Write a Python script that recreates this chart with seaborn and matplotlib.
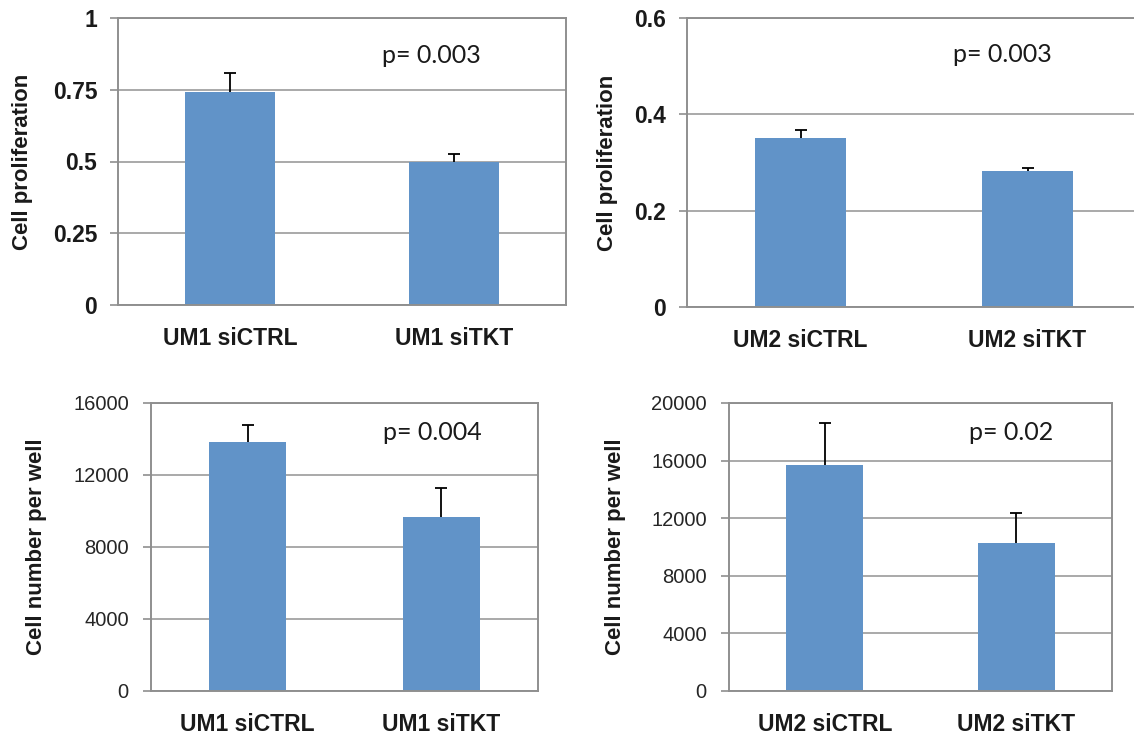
import numpy as np
import pandas as pd
import seaborn as sns
import matplotlib.pyplot as plt

# values
um1_groups = ['UM1 siCTRL', 'UM1 siTKT']
um2_groups = ['UM2 siCTRL', 'UM2 siTKT']

um1_prolif = [0.743, 0.497]
um1_prolif_err = [0.065, 0.030]
um2_prolif = [0.351, 0.282]
um2_prolif_err = [0.016, 0.006]

um1_count = [13850, 9650]
um1_count_err = [930, 1640]
um2_count = [15700, 10250]
um2_count_err = [2900, 2080]

p_labels = ['p= 0.003', 'p= 0.003', 'p= 0.004', 'p= 0.02']

prolif_ticks_um1 = [0, 0.25, 0.5, 0.75, 1]
prolif_ticklabels_um1 = ['0', '0.25', '0.5', '0.75', '1']
prolif_ticks_um2 = [0, 0.2, 0.4, 0.6]
prolif_ticklabels_um2 = ['0', '0.2', '0.4', '0.6']
count_ticks_um1 = [0, 4000, 8000, 12000, 16000]
count_ticks_um2 = [0, 4000, 8000, 12000, 16000, 20000]

sns.set_theme(style="white")
plt.rcParams['font.family'] = ['Liberation Sans', 'DejaVu Sans']

BAR = '#6193c8'
GRID = '#a9a9a9'
SPINE = '#8f8f8f'

fig = plt.figure(figsize=(11.34, 7.36), dpi=100)
W, H = 1134, 736


def px_axes(left, right, top, bottom):
    return fig.add_axes([left / W, (H - bottom) / H, (right - left) / W, (bottom - top) / H])


panels = [
    dict(box=(118, 566, 18, 305), groups=um1_groups, vals=um1_prolif, err=um1_prolif_err,
         ticks=prolif_ticks_um1, labels=prolif_ticklabels_um1, ylabel='Cell proliferation',
         top_row=True, lab_x=-0.19, p_xy=(0.699, 0.871)),
    dict(box=(687, 1141, 18, 307), groups=um2_groups, vals=um2_prolif, err=um2_prolif_err,
         ticks=prolif_ticks_um2, labels=prolif_ticklabels_um2, ylabel='Cell proliferation',
         top_row=True, lab_x=-0.152, p_xy=(0.694, 0.872)),
    dict(box=(151, 538, 403, 691), groups=um1_groups, vals=um1_count, err=um1_count_err,
         ticks=count_ticks_um1, labels=[str(t) for t in count_ticks_um1],
         ylabel='Cell number per well', top_row=False, lab_x=-0.269, p_xy=(0.726, 0.899)),
    dict(box=(729, 1112, 403, 691), groups=um2_groups, vals=um2_count, err=um2_count_err,
         ticks=count_ticks_um2, labels=[str(t) for t in count_ticks_um2],
         ylabel='Cell number per well', top_row=False, lab_x=-0.269, p_xy=(0.736, 0.899)),
]

for i, p in enumerate(panels):
    ax = px_axes(*p['box'])
    df = pd.DataFrame({'group': p['groups'], 'value': p['vals']})
    sns.barplot(data=df, x='group', y='value', color=BAR, saturation=1, width=0.4,
                linewidth=0, ax=ax, zorder=2)

    # upper-only error bars, Excel style: stem from bar top plus a single cap
    xs = np.arange(len(p['vals']))
    vals = np.asarray(p['vals'], dtype=float)
    tops = vals + np.asarray(p['err'], dtype=float)
    ax.vlines(xs, vals, tops, colors='black', linewidth=1.3, zorder=3)
    ax.plot(xs, tops, ls='none', marker='_', ms=9, mew=1.3, color='black', zorder=3)

    ax.set_xlim(-0.5, 1.5)
    ax.set_ylim(p['ticks'][0], p['ticks'][-1])
    ax.set_yticks(p['ticks'])
    ax.set_axisbelow(True)
    ax.yaxis.grid(True, color=GRID, linewidth=1.4)
    ax.xaxis.grid(False)
    for s in ax.spines.values():
        s.set_color(SPINE)
        s.set_linewidth(1.4)

    if p['top_row']:
        ax.set_yticklabels(p['labels'], fontsize=16.5, fontweight='bold', color='#1a1a1a')
        ax.tick_params(axis='y', length=6, width=1.2, color=SPINE, pad=9, left=True)
    else:
        ax.set_yticklabels(p['labels'], fontsize=14.5, color='#262626')
        ax.tick_params(axis='y', length=6, width=1.2, color=SPINE, pad=10, left=True)

    ax.set_xticks([0, 1])
    ax.set_xticklabels(p['groups'], fontsize=16.5, fontweight='bold', color='#1a1a1a')
    ax.tick_params(axis='x', length=0, pad=16)

    ax.set_xlabel('')
    ax.set_ylabel(p['ylabel'], fontsize=16, fontweight='bold', color='#1a1a1a')
    ax.yaxis.set_label_coords(p['lab_x'], 0.5)

    ax.text(p['p_xy'][0], p['p_xy'][1], p_labels[i], transform=ax.transAxes,
            ha='center', va='center', fontsize=18, family=['Lato', 'DejaVu Sans'],
            color='#1a1a1a')

fig.savefig('out.png', dpi=100)
